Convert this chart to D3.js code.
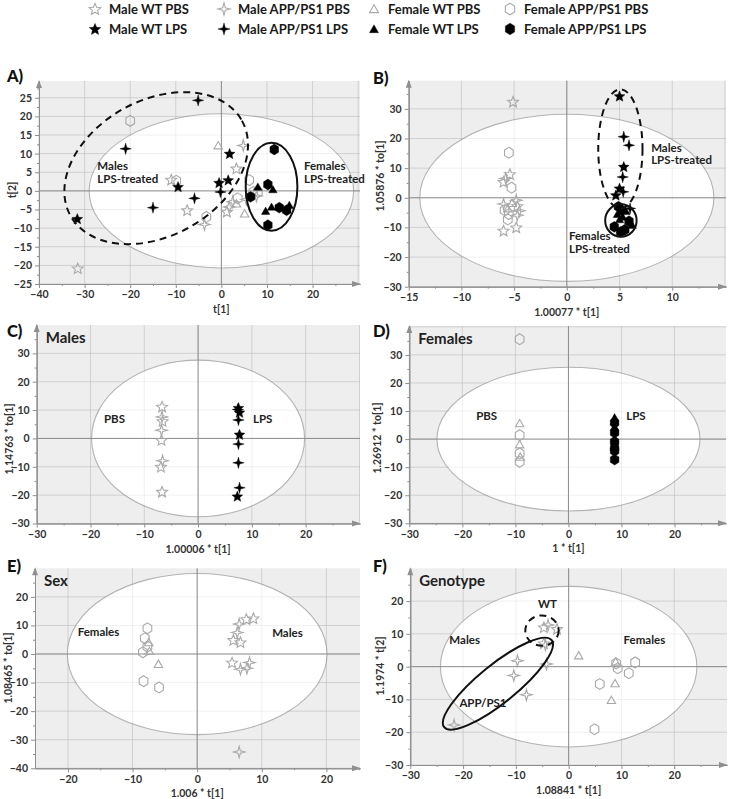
<!DOCTYPE html>
<html><head><meta charset="utf-8">
<script src="https://cdn.jsdelivr.net/npm/d3@7"></script>
<style>
body{margin:0;background:#fff}
svg{display:block}
text{font-family:Lato,"Open Sans","DejaVu Sans",sans-serif}
</style>
</head><body>
<svg id="chart" width="732" height="799"></svg>
<script>
// ---------------- DATA ----------------
const groupNames = ["Male WT PBS","Male APP/PS1 PBS","Female WT PBS","Female APP/PS1 PBS",
                    "Male WT LPS","Male APP/PS1 LPS","Female WT LPS","Female APP/PS1 LPS"];
const groupShapes = ["star5","star4","tri","hex","star5","star4","tri","hex"];
const groupFilled = [false,false,false,false,true,true,true,true];

// Panel A (t[1], t[2])
const A_mWT_PBS  = [[-31.5,-20.8],[-11.0,3.0],[-7.5,-5.2],[3.3,6.0],[1.2,-5.6]];
const A_mAPP_PBS = [[4.8,12.2],[-3.7,-9.0],[1.7,-4.3],[2.5,-2.9],[7.7,-1.4],[5.5,-2.3]];
const A_fWT_PBS  = [[-0.7,12.2],[3.3,-3.4],[5.1,-6.1]];
const A_fAPP_PBS = [[-20.0,18.8],[-9.9,2.7],[6.1,2.9],[7.0,-0.3],[3.6,-2.0],[-3.3,-7.0],[8.0,-0.3]];
const A_mWT_LPS  = [[-31.6,-7.5],[-9.5,1.1],[1.8,10.0],[1.5,2.9],[-0.5,2.2]];
const A_mAPP_LPS = [[-5.1,24.3],[-21.0,11.3],[-15.0,-4.5],[-5.9,-2.0],[-0.2,-0.3]];
const A_fWT_LPS  = [[8.0,1.1],[11.3,0.4],[9.7,-5.4],[11.0,-4.3],[14.9,-3.8]];
const A_fAPP_LPS = [[11.6,11.1],[10.2,1.7],[6.4,-1.6],[12.7,-4.5],[14.3,-5.2],[10.2,-9.2]];

// Panel B
const B_mWT_PBS  = [[-5.1,32.4],[-5.4,8.0],[-6.0,5.4],[-4.7,-2.8],[-6.0,-11.1],[-4.8,-10.0]];
const B_mAPP_PBS = [[-5.8,6.5],[-6.0,-2.1],[-4.8,-0.8],[-4.5,-4.4],[-4.7,-5.9]];
const B_fWT_PBS  = [[-5.6,-3.6],[-5.2,-1.8]];
const B_fAPP_PBS = [[-5.5,15.2],[-5.25,3.4],[-5.5,-5.5],[-5.6,-7.3],[-5.9,-4.2]];
const B_mWT_LPS  = [[5.0,34.3],[5.4,10.5],[5.0,3.2],[4.65,0.9],[5.1,-3.6]];
const B_mAPP_LPS = [[5.4,20.6],[5.9,17.7],[5.3,7.0],[5.35,2.0],[6.0,-3.6]];
const B_fWT_LPS  = [[4.8,-5.5],[5.3,-6.4],[5.0,-7.3],[6.2,-9.2],[5.6,-4.5]];
const B_fAPP_LPS = [[5.2,-4.2],[4.5,-9.8],[5.1,-11.5],[5.9,-7.9],[5.5,-10.8],[4.9,-3.0]];

// Panel C (Males)
const C_mWT_PBS  = [[-6.7,11.2],[-6.6,6.1],[-6.8,-0.6],[-6.9,-10.0],[-6.7,-18.8]];
const C_mAPP_PBS = [[-6.7,7.6],[-6.8,2.9],[-6.6,-7.9]];
const C_mWT_LPS  = [[7.5,10.8],[7.7,9.2],[7.7,1.4],[7.3,-20.4]];
const C_mAPP_LPS = [[7.4,10.2],[7.5,6.5],[7.5,-2.0],[7.5,-8.6],[7.7,-17.4]];

// Panel D (Females)
const D_fWT_PBS  = [[-9.2,5.6],[-9.2,-1.9],[-9.1,-6.3]];
const D_fAPP_PBS = [[-9.2,35.6],[-9.2,1.4],[-9.2,-5.1],[-9.2,-8.1]];
const D_fWT_LPS  = [[8.7,7.7],[8.7,6.4],[8.7,4.4],[8.7,0.2],[8.7,-2.1]];
const D_fAPP_LPS = [[8.7,5.8],[8.7,2.3],[8.7,-1.0],[8.7,-3.3],[8.7,-4.2],[8.7,-7.3]];

// Panel E (Sex)
const E_mWT_PBS  = [[8.7,12.5],[7.6,12.2],[5.6,4.9],[6.7,4.1],[5.4,-3.0]];
const E_mAPP_PBS = [[6.5,10.5],[6.2,7.5],[8.1,-3.0],[6.7,-5.3],[7.7,-5.0],[6.5,-34.3]];
const E_fWT_PBS  = [[-7.5,4.1],[-6.0,-3.5],[-7.4,1.0]];
const E_fAPP_PBS = [[-7.7,9.0],[-8.1,5.5],[-7.7,2.6],[-8.4,0.6],[-8.3,-9.5],[-5.9,-11.7]];

// Panel F (Genotype)
const F_mWT_PBS  = [[-4.7,12.0],[-2.2,11.5],[-4.7,7.1]];
const F_mAPP_PBS = [[-3.9,12.7],[-4.4,6.6],[-4.2,0.8],[-9.7,1.8],[-10.4,-2.7],[-8.0,-8.6],[-21.7,-17.8]];
const F_fWT_PBS  = [[1.9,3.4],[8.8,-5.1],[8.1,-10.2],[8.9,1.5]];
const F_fAPP_PBS = [[9.0,1.0],[9.3,-0.5],[12.6,1.3],[11.4,-2.0],[5.9,-5.3],[4.9,-19.1]];

// Axis domains and ticks
const xDomains = [[-40,30.4],[-15,15.1],[-30,30.1],[-30,29.7],[-25.1,25.2],[-30,30]];
const yDomains = [[-25,29.5],[-30,39.5],[-30,40],[-30,40.3],[-40,30],[-30,30]];
const xTickLists = [[-40,-30,-20,-10,0,10,20],[-15,-10,-5,0,5,10],[-30,-20,-10,0,10,20],
                    [-30,-20,-10,0,10,20],[-20,-10,0,10,20],[-30,-20,-10,0,10,20]];
const yTickLists = [[-25,-20,-15,-10,-5,0,5,10,15,20,25],[-30,-20,-10,0,10,20,30],
                    [-30,-20,-10,0,10,20,30],[-30,-20,-10,0,10,20,30],
                    [-40,-30,-20,-10,0,10,20],[-30,-20,-10,0,10,20]];
const xTitles = ["t[1]","1.00077 * t[1]","1.00006 * t[1]","1 * t[1]","1.006 * t[1]","1.08841 * t[1]"];
const yTitles = ["t[2]","1.05876 * to[1]","1.14763 * to[1]","1.26912 * to[1]","1.08465 * to[1]","1.1974 * t[2]"];
const panelLetters = ["A)","B)","C)","D)","E)","F)"];
const panelTitles = ["","","Males","Females","Sex","Genotype"];

// Hotelling T2 ellipse semi-axes (data units)
const t2Rx = [29.0,13.95,19.8,24.8,20.1,24.3];
const t2Ry = [20.7,28.2,27.6,25.6,28.2,24.5];

// Group ellipses: [cx, cy, rx, ry] in data units
const A_malesEllipse   = [-14.3,6.1,21.5,18.2];
const A_femalesEllipse = [11.0,1.1,5.67,11.8];
const B_malesEllipse   = [5.08,16.5,2.1,20.1];
const B_femalesEllipse = [5.13,-7.66,1.49,5.5];
const F_wtEllipse      = [-5.05,11.0,3.16,4.63];
const F_appEllipse     = [-13.4,-5.2,13.1,5.8];

// ---------------- LAYOUT ----------------
const layout = [
  {L:39,   R:360, T:81,    B:284,   letter:[7,82],   yTitle:[12,190]},
  {L:408.7,R:726, T:80.7,  B:286.7, letter:[373,84], yTitle:[380,176]},
  {L:36.7, R:360, T:325,   B:523.5, letter:[7,337],  yTitle:[9,439]},
  {L:409.3,R:726, T:326,   B:523.3, letter:[373,337],yTitle:[377,438]},
  {L:35,   R:360, T:568.3, B:768.3, letter:[7,572],  yTitle:[8,668]},
  {L:410.3,R:727, T:568.3, B:765,   letter:[373,572],yTitle:[380,666]}
];

const panelSeries = [
  [[A_mWT_PBS,0],[A_mAPP_PBS,1],[A_fWT_PBS,2],[A_fAPP_PBS,3],[A_mWT_LPS,4],[A_mAPP_LPS,5],[A_fWT_LPS,6],[A_fAPP_LPS,7]],
  [[B_mWT_PBS,0],[B_mAPP_PBS,1],[B_fWT_PBS,2],[B_fAPP_PBS,3],[B_mWT_LPS,4],[B_mAPP_LPS,5],[B_fWT_LPS,6],[B_fAPP_LPS,7]],
  [[C_mWT_PBS,0],[C_mAPP_PBS,1],[C_mWT_LPS,4],[C_mAPP_LPS,5]],
  [[D_fWT_PBS,2],[D_fAPP_PBS,3],[D_fWT_LPS,6],[D_fAPP_LPS,7]],
  [[E_mWT_PBS,0],[E_mAPP_PBS,1],[E_fWT_PBS,2],[E_fAPP_PBS,3]],
  [[F_mWT_PBS,0],[F_mAPP_PBS,1],[F_fWT_PBS,2],[F_fAPP_PBS,3]]
];

// group ellipses: [data, dashed, rotation deg]
const panelGroupEllipses = [
  [[A_malesEllipse,true,-29],[A_femalesEllipse,false,0]],
  [[B_malesEllipse,true,0],[B_femalesEllipse,false,0]],
  [],[],[],
  [[F_wtEllipse,true,0],[F_appEllipse,false,-39]]
];

// annotations: [text lines, x, y (data units)]
const panelAnnotations = [
  [[["Males","LPS-treated"],-27.2,5.5],[["Females","LPS-treated"],18.1,5.5]],
  [[["Males","LPS-treated"],8.0,15.5],[["Females","LPS-treated"],0.2,-14.3]],
  [[["PBS"],-17.5,5.4],[["LPS"],10.2,5.4]],
  [[["PBS"],-17.4,6.8],[["LPS"],10.9,6.8]],
  [[["Females"],-18.5,6.3],[["Males"],11.6,6.0]],
  [[["WT"],-5.8,17.9],[["Males"],-22.6,6.9],[["Females"],10.4,6.9],[["APP/PS1"],-20.7,-12.3]]
];

// ---------------- SYMBOLS ----------------
const symTypes = {
  star5: {draw(ctx,size){const R=Math.sqrt(size)/2, r=R*0.45;
    for(let i=0;i<10;i++){const a=-Math.PI/2+i*Math.PI/5, rr=i%2?r:R;
      const px=rr*Math.cos(a), py=rr*Math.sin(a)+R*0.08; i?ctx.lineTo(px,py):ctx.moveTo(px,py);} ctx.closePath();}},
  star4: {draw(ctx,size){const R=Math.sqrt(size)/2, r=R*0.3;
    for(let i=0;i<8;i++){const a=-Math.PI/2+i*Math.PI/4, rr=i%2?r:R;
      const px=rr*Math.cos(a), py=rr*Math.sin(a); i?ctx.lineTo(px,py):ctx.moveTo(px,py);} ctx.closePath();}},
  tri: {draw(ctx,size){const R=Math.sqrt(size)/2;
    for(let i=0;i<3;i++){const a=-Math.PI/2+i*2*Math.PI/3;
      const px=R*Math.cos(a), py=R*Math.sin(a)+R*0.2; i?ctx.lineTo(px,py):ctx.moveTo(px,py);} ctx.closePath();}},
  hex: {draw(ctx,size){const R=Math.sqrt(size)/2;
    for(let i=0;i<6;i++){const a=-Math.PI/2+i*Math.PI/3;
      const px=R*0.92*Math.cos(a), py=R*Math.sin(a); i?ctx.lineTo(px,py):ctx.moveTo(px,py);} ctx.closePath();}}
};
const symSize = {star5:130, star4:130, tri:95, hex:118};
const GRAY = "#a9a9a9";
function symPath(gi, scale){ const s=groupShapes[gi]; return d3.symbol().type(symTypes[s]).size(symSize[s]*(scale||1))(); }
function styleSym(sel, gi){
  if(groupFilled[gi]) sel.attr("fill","#000").attr("stroke","#000").attr("stroke-width",0.4);
  else sel.attr("fill","none").attr("stroke",GRAY).attr("stroke-width",1.1);
}

// ---------------- DRAW ----------------
const svg = d3.select("#chart");
svg.append("rect").attr("width",732).attr("height",799).attr("fill","#fff");

// Legend
const legCols = [95,224,374,510];
const legRows = [9,29];
groupNames.forEach((name,i)=>{
  const col=i%4, row=Math.floor(i/4);
  const g = svg.append("g");
  const p = g.append("path").attr("d",symPath(i,1.15)).attr("transform",`translate(${legCols[col]},${legRows[row]})`);
  styleSym(p,i);
  g.append("text").attr("x",legCols[col]+14).attr("y",legRows[row]).attr("dy","0.35em")
    .attr("font-size",13).attr("font-weight",700).attr("fill","#1a1a1a").text(name);
});

function halves(t){ const out=[]; for(let i=0;i<t.length-1;i++) out.push((t[i]+t[i+1])/2); out.push(t[t.length-1]+(t[1]-t[0])/2); return out; }

layout.forEach((lay,pi)=>{
  const x = d3.scaleLinear().domain(xDomains[pi]).range([lay.L,lay.R]);
  const y = d3.scaleLinear().domain(yDomains[pi]).range([lay.B,lay.T]);
  const g = svg.append("g");
  // background
  g.append("rect").attr("x",lay.L).attr("y",lay.T).attr("width",lay.R-lay.L).attr("height",lay.B-lay.T).attr("fill","#eeeeee");
  const xt = xTickLists[pi], yt = yTickLists[pi];
  const grid = (color)=>{
    g.append("g").selectAll("line").data(xt.concat([xt[xt.length-1]+(xt[1]-xt[0])]).filter(v=>v<xDomains[pi][1])).join("line")
      .attr("x1",d=>x(d)).attr("x2",d=>x(d)).attr("y1",lay.T).attr("y2",lay.B).attr("stroke",color).attr("stroke-width",1);
    g.append("g").selectAll("line").data(yt.concat([yt[yt.length-1]+(yt[1]-yt[0])]).filter(v=>v<yDomains[pi][1])).join("line")
      .attr("y1",d=>y(d)).attr("y2",d=>y(d)).attr("x1",lay.L).attr("x2",lay.R).attr("stroke",color).attr("stroke-width",1);
  };
  grid("#dddddd");
  // T2 ellipse
  g.append("ellipse").attr("cx",x(0)).attr("cy",y(0))
    .attr("rx",x(t2Rx[pi])-x(0)).attr("ry",y(0)-y(t2Ry[pi]))
    .attr("fill","#fff").attr("stroke","#b3b3b3").attr("stroke-width",1.1);
  grid("rgba(0,0,0,0.06)");
  // zero lines
  g.append("line").attr("x1",x(0)).attr("x2",x(0)).attr("y1",lay.T).attr("y2",lay.B).attr("stroke","#8c8c8c").attr("stroke-width",1);
  g.append("line").attr("y1",y(0)).attr("y2",y(0)).attr("x1",lay.L).attr("x2",lay.R).attr("stroke","#8c8c8c").attr("stroke-width",1);

  // axes
  const axL = g.append("g").attr("transform",`translate(${lay.L},0)`)
    .call(d3.axisLeft(y).tickValues(yt).tickSize(4).tickSizeOuter(0).tickPadding(3));
  const axLm = g.append("g").attr("transform",`translate(${lay.L},0)`)
    .call(d3.axisLeft(y).tickValues(halves(yt).filter(v=>v<yDomains[pi][1])).tickSize(2).tickSizeOuter(0).tickFormat(""));
  const axB = g.append("g").attr("transform",`translate(0,${lay.B})`)
    .call(d3.axisBottom(x).tickValues(xt).tickSize(4).tickSizeOuter(0).tickPadding(3));
  const axBm = g.append("g").attr("transform",`translate(0,${lay.B})`)
    .call(d3.axisBottom(x).tickValues(halves(xt).filter(v=>v<xDomains[pi][1])).tickSize(2).tickSizeOuter(0).tickFormat(""));
  [axL,axLm,axB,axBm].forEach(a=>{
    a.selectAll("path.domain").attr("stroke","#8f8f8f");
    a.selectAll(".tick line").attr("stroke","#8f8f8f");
    a.selectAll("text").attr("font-family",'Lato,"Open Sans",sans-serif').attr("font-size",10.5)
      .attr("font-weight",700).attr("fill","#333");
  });
  // arrowheads
  g.append("path").attr("d",`M${lay.L-3},${lay.T+7}L${lay.L},${lay.T-1}L${lay.L+3},${lay.T+7}Z`).attr("fill","#8f8f8f");
  g.append("path").attr("d",`M${lay.R-8},${lay.B-3}L${lay.R+1},${lay.B}L${lay.R-8},${lay.B+3}Z`).attr("fill","#8f8f8f");

  // axis titles
  g.append("text").attr("x",x(0)).attr("y",lay.B+29).attr("text-anchor","middle")
    .attr("font-size",10.5).attr("font-weight",700).attr("fill","#333").text(xTitles[pi]);
  g.append("text").attr("transform",`translate(${lay.yTitle[0]+4},${lay.yTitle[1]}) rotate(-90)`)
    .attr("text-anchor","middle").attr("font-size",10.5).attr("font-weight",700).attr("fill","#333").text(yTitles[pi]);

  // points: PBS first, then LPS on top
  panelSeries[pi].forEach(([pts,gi])=>{
    const sel = g.append("g").selectAll("path").data(pts).join("path")
      .attr("d",symPath(gi)).attr("transform",d=>`translate(${x(d[0])},${y(d[1])})`);
    styleSym(sel,gi);
  });

  // group ellipses
  panelGroupEllipses[pi].forEach(([e,dashed,rot])=>{
    const cx=x(e[0]), cy=y(e[1]);
    g.append("ellipse").attr("cx",0).attr("cy",0)
      .attr("rx",x(e[0]+e[2])-cx).attr("ry",cy-y(e[1]+e[3]))
      .attr("transform",`translate(${cx},${cy}) rotate(${rot})`)
      .attr("fill","none").attr("stroke","#111").attr("stroke-width",2)
      .attr("stroke-dasharray",dashed?"7,5":null);
  });

  // annotations (each line its own text element)
  panelAnnotations[pi].forEach(([lines,ax,ay])=>{
    lines.forEach((ln,li)=>g.append("text").attr("x",x(ax)).attr("y",y(ay)+li*12.5)
      .attr("font-size",11.5).attr("font-weight",700).attr("fill","#222").text(ln));
  });

  // panel title
  if(panelTitles[pi]) g.append("text").attr("x",lay.L+9).attr("y",lay.T+18)
    .attr("font-size",15).attr("font-weight",700).attr("fill","#222").text(panelTitles[pi]);
  // panel letter
  g.append("text").attr("x",lay.letter[0]).attr("y",lay.letter[1]).attr("font-size",16.5)
    .attr("font-weight",900).attr("fill","#111").text(panelLetters[pi]);
});
</script>
</body></html>
